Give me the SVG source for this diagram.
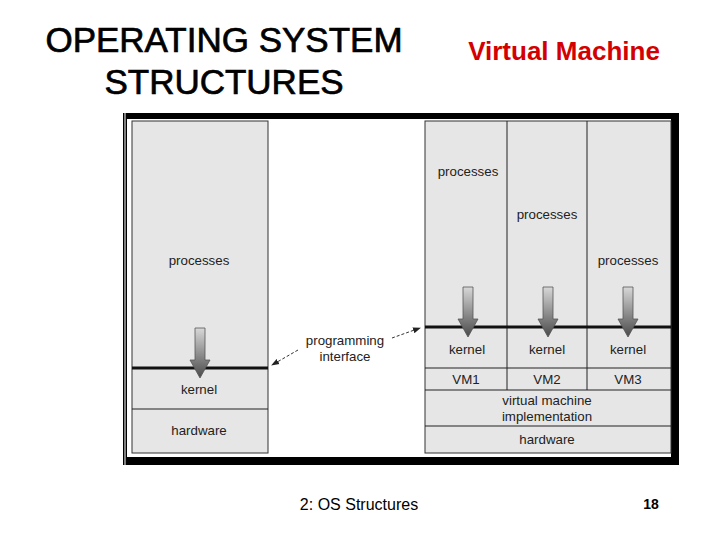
<svg xmlns="http://www.w3.org/2000/svg" width="720" height="540" viewBox="0 0 720 540">
<style>
.t{font-family:"Liberation Sans",Arial,sans-serif;fill:#222;text-anchor:middle;font-size:13.3px}
.box{fill:#e6e6e6;stroke:#333;stroke-width:1}
.ln{stroke:#222;stroke-width:1}
.thick{stroke:#111;stroke-width:3}
.dash{stroke:#333;stroke-width:1;stroke-dasharray:3,2;fill:none}
.ttl{font-family:"Liberation Sans",Arial,sans-serif;font-size:35px;text-anchor:middle;fill:#000;stroke:#000;stroke-width:0.7}
</style>
<defs>
<linearGradient id="g" x1="0" y1="0" x2="0" y2="1">
<stop offset="0" stop-color="#d8d8d8"/>
<stop offset="1" stop-color="#4a4a4a"/>
</linearGradient>
<marker id="ah" markerWidth="8" markerHeight="8" refX="7" refY="4" orient="auto" markerUnits="userSpaceOnUse">
<path d="M0,1 L8,4 L0,7 Z" fill="#222"/>
</marker>
<g id="arrow">
<path d="M-5,0 H5 V32 H10 L0,50 L-10,32 H-5 Z" fill="url(#g)" stroke="#555" stroke-width="0.8"/>
</g>
</defs>
<rect width="720" height="540" fill="#fff"/>
<g id="title">
<text class="ttl" x="224" y="52">OPERATING SYSTEM</text>
<text class="ttl" x="224" y="94">STRUCTURES</text>
</g>
<text id="subtitle" x="564" y="60" font-family="Liberation Sans,Arial,sans-serif" font-size="26" font-weight="bold" text-anchor="middle" fill="#d40000">Virtual Machine</text>
<g id="frame">
<rect x="123" y="113" width="556" height="352" fill="#000"/>
<rect x="127" y="119" width="544" height="338" fill="#fff"/>
<line x1="125" y1="113" x2="125" y2="465" stroke="#fff" stroke-width="1"/>
</g>
<g id="non-virtual">
<rect class="box" x="132" y="121" width="136" height="332"/>
<line class="ln" x1="132" y1="409" x2="268" y2="409"/>
<line class="thick" x1="132" y1="368" x2="268" y2="368"/>
<text class="t" x="199" y="265">processes</text>
<text class="t" x="199" y="394">kernel</text>
<text class="t" x="199" y="435">hardware</text>
<use href="#arrow" x="200" y="328"/>
</g>
<g id="virtual">
<rect class="box" x="425" y="121" width="246" height="332"/>
<line class="ln" x1="507" y1="121" x2="507" y2="390"/>
<line class="ln" x1="587" y1="121" x2="587" y2="390"/>
<line class="ln" x1="425" y1="368" x2="671" y2="368"/>
<line class="ln" x1="425" y1="390" x2="671" y2="390"/>
<line class="ln" x1="425" y1="426" x2="671" y2="426"/>
<line class="thick" x1="425" y1="327" x2="671" y2="327"/>
<text class="t" x="468" y="176">processes</text>
<text class="t" x="547" y="219">processes</text>
<text class="t" x="628" y="265">processes</text>
<text class="t" x="467" y="354">kernel</text>
<text class="t" x="547" y="354">kernel</text>
<text class="t" x="628" y="354">kernel</text>
<text class="t" x="466" y="384">VM1</text>
<text class="t" x="547" y="384">VM2</text>
<text class="t" x="628" y="384">VM3</text>
<text class="t" x="547" y="405">virtual machine</text>
<text class="t" x="547" y="421">implementation</text>
<text class="t" x="547" y="444">hardware</text>
<use href="#arrow" x="468" y="287"/>
<use href="#arrow" x="548" y="287"/>
<use href="#arrow" x="628" y="287"/>
</g>
<g id="programming-interface">
<text class="t" x="345" y="345">programming</text>
<text class="t" x="345" y="361">interface</text>
</g>
<g id="connectors">
<line class="dash" x1="298" y1="350" x2="272" y2="365" marker-end="url(#ah)"/>
<line class="dash" x1="392" y1="338" x2="420" y2="328" marker-end="url(#ah)"/>
</g>
<g id="footer">
<text x="359" y="510" font-family="Liberation Sans,Arial,sans-serif" font-size="16" text-anchor="middle" fill="#000">2: OS Structures</text>
<text x="651" y="509" font-family="Liberation Sans,Arial,sans-serif" font-size="14" font-weight="bold" text-anchor="middle" fill="#000">18</text>
</g>
</svg>
